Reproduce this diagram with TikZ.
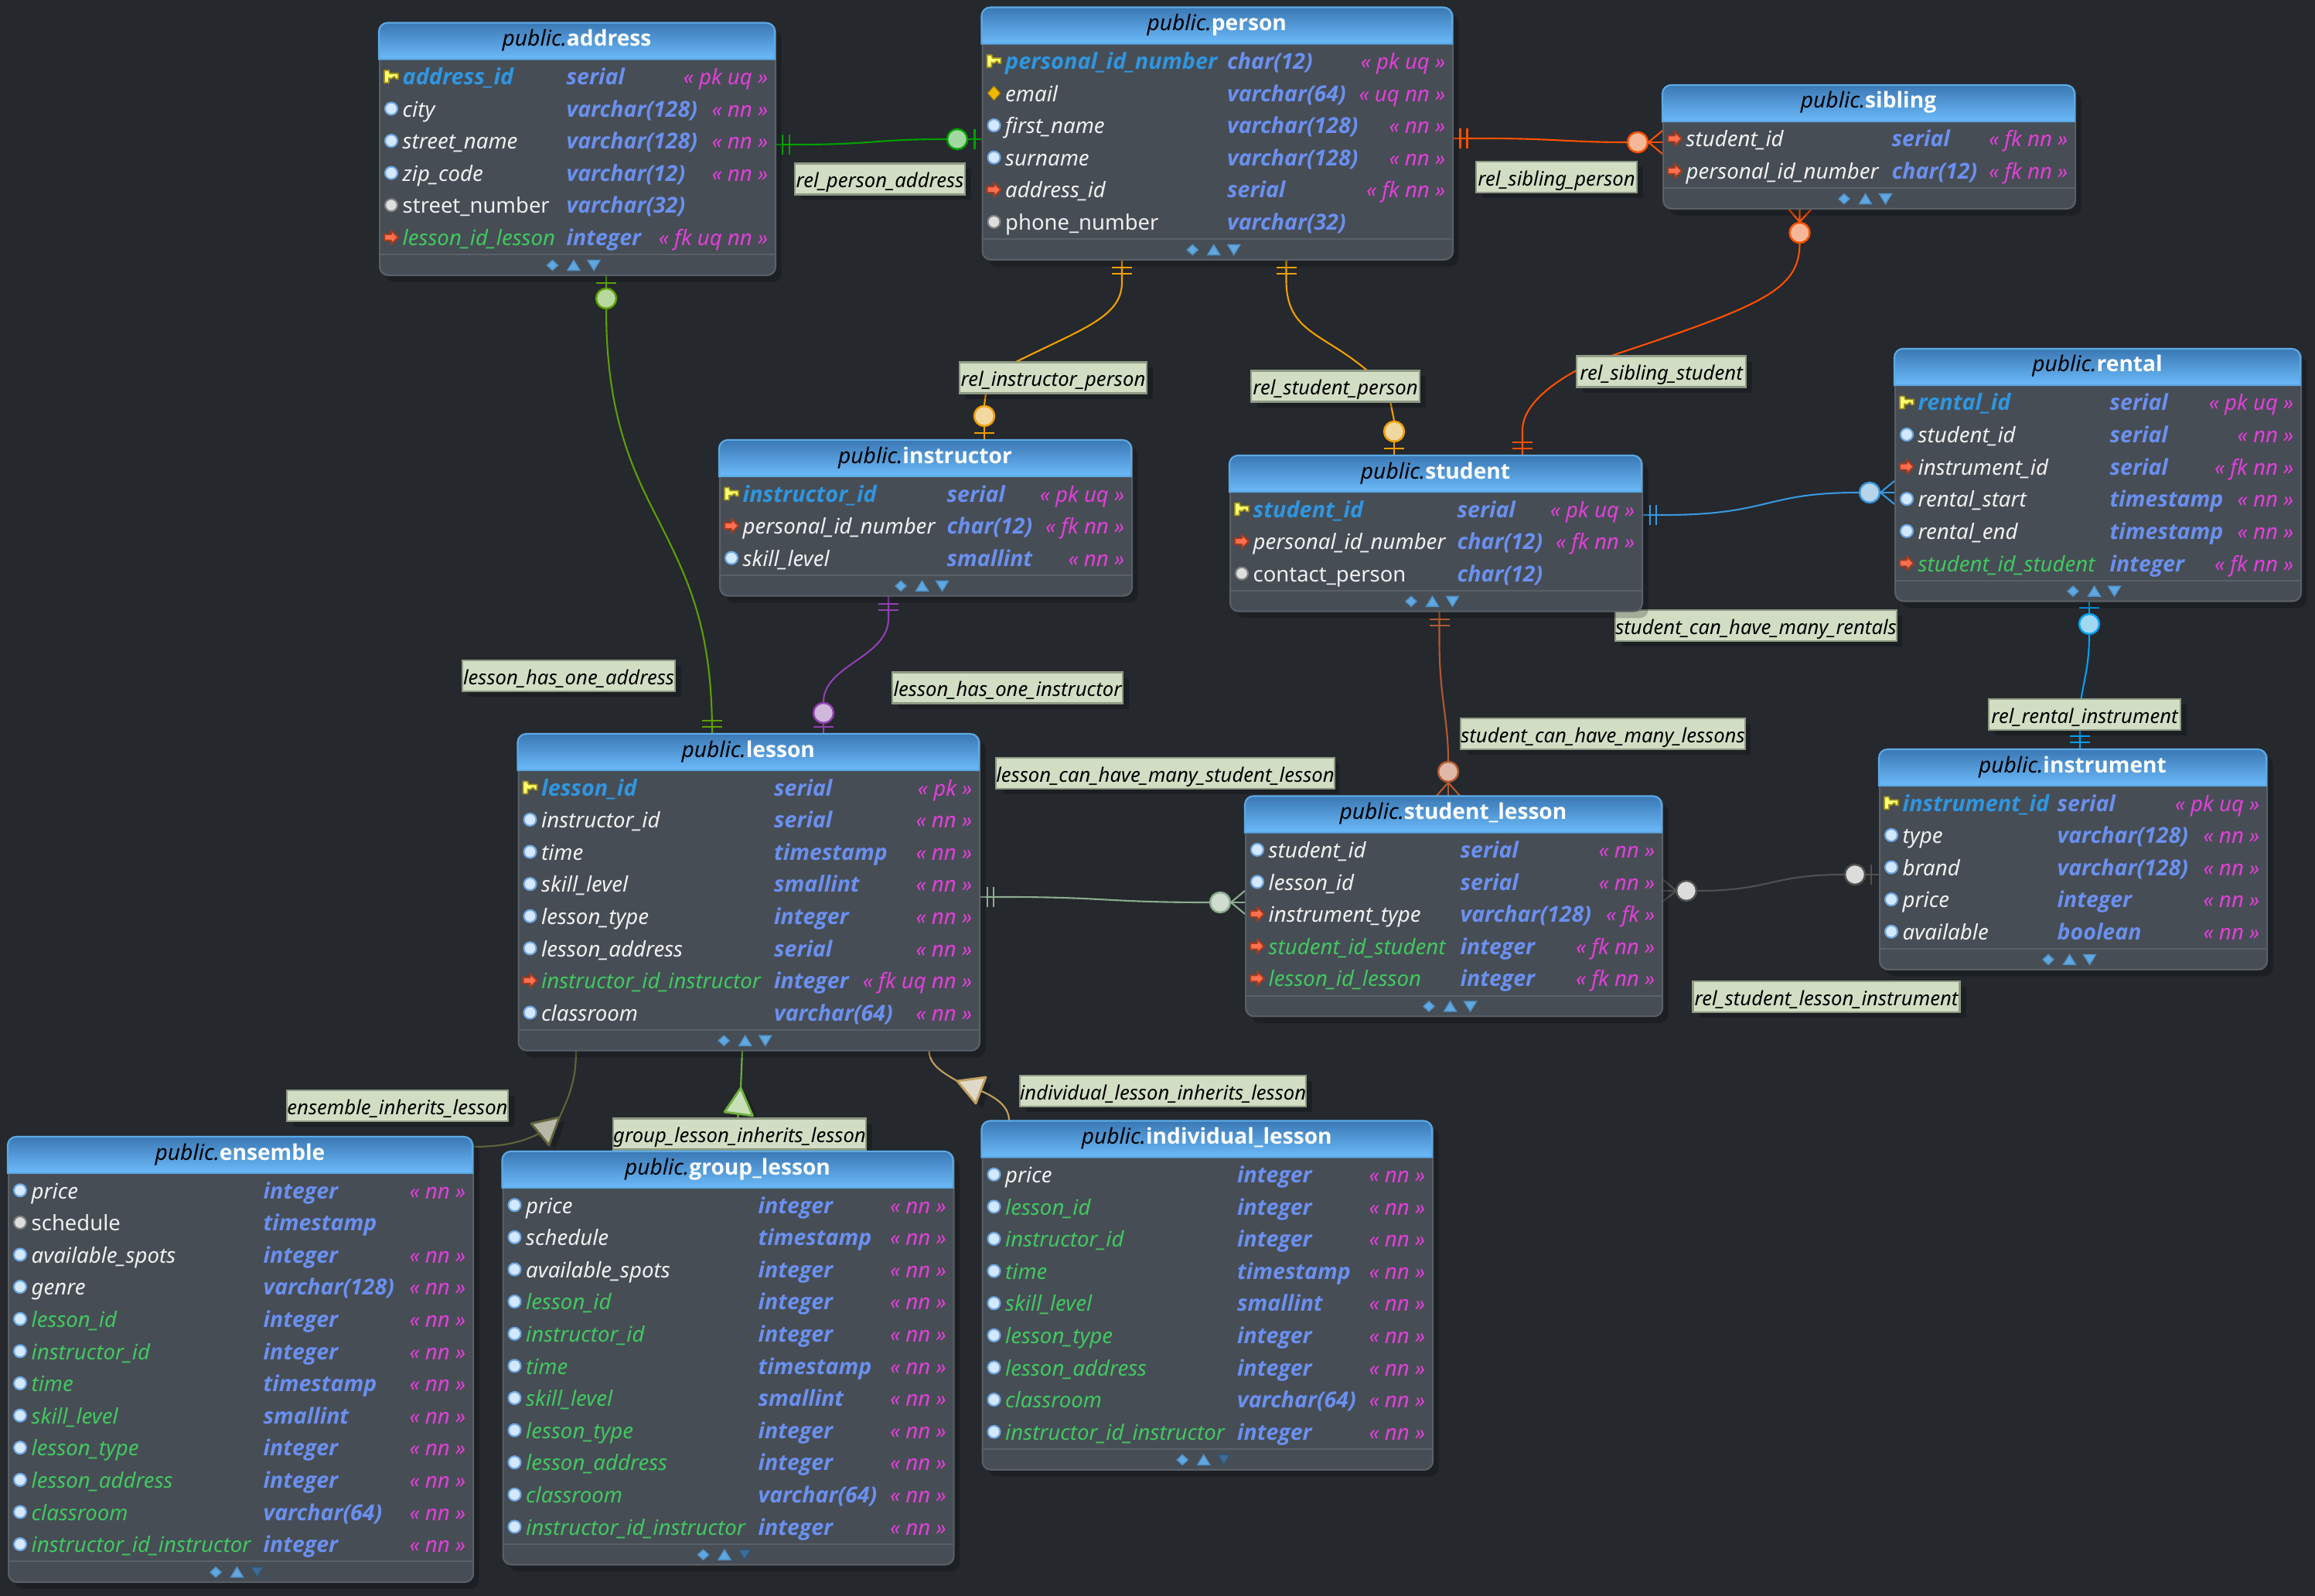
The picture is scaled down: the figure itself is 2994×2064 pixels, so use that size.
\documentclass[tikz,border=0pt]{standalone}
\usepackage{fontspec}
\setmainfont{Noto Sans}
\newfontfamily\strongfam{Open Sans}
\usetikzlibrary{calc}

\definecolor{canvasbg}{HTML}{25282D}
\definecolor{bodybg}{HTML}{474D55}
\definecolor{bodyln}{HTML}{5A6068}
\definecolor{headtop}{HTML}{3A78B4}
\definecolor{headbot}{HTML}{6CBAFA}
\definecolor{headln}{HTML}{5CAAE6}
\definecolor{pkcol}{HTML}{2F96E0}
\definecolor{colcol}{HTML}{F0F0F0}
\definecolor{addcol}{HTML}{40C860}
\definecolor{typecol}{HTML}{6A90F0}
\definecolor{conscol}{HTML}{E040D8}
\definecolor{lblbg}{HTML}{D2DEC4}
\definecolor{lblln}{HTML}{8E9A84}
\definecolor{relGreen}{HTML}{00A000}   \definecolor{relGreenF}{HTML}{A0D8A0}
\definecolor{relSib}{HTML}{FF5000}     \definecolor{relSibF}{HTML}{F4B898}
\definecolor{relPer}{HTML}{F0A000}     \definecolor{relPerF}{HTML}{F0D8A0}
\definecolor{relRent}{HTML}{3A96DC}    \definecolor{relRentF}{HTML}{B8D4EA}
\definecolor{relInst}{HTML}{00A0F0}    \definecolor{relInstF}{HTML}{A0D8F4}
\definecolor{relSl}{HTML}{B05A30}      \definecolor{relSlF}{HTML}{E0B8A8}
\definecolor{relAddr}{HTML}{5CA000}    \definecolor{relAddrF}{HTML}{B8D8A0}
\definecolor{relIns}{HTML}{9040B0}     \definecolor{relInsF}{HTML}{D0B8DC}
\definecolor{relLs}{HTML}{8CAC90}      \definecolor{relLsF}{HTML}{D0DCD0}
\definecolor{relSli}{HTML}{505050}     \definecolor{relSliF}{HTML}{DCDCDC}
\definecolor{relEns}{HTML}{60643C}     \definecolor{relEnsF}{HTML}{B8B8A8}
\definecolor{relGrp}{HTML}{70B040}     \definecolor{relGrpF}{HTML}{C8E0B8}
\definecolor{relInd}{HTML}{C0A060}     \definecolor{relIndF}{HTML}{E0D8C8}
\definecolor{keyfill}{HTML}{FFFF70}    \definecolor{keyln}{HTML}{A09020}
\definecolor{uqfill}{HTML}{F0B800}     \definecolor{uqln}{HTML}{B08800}
\definecolor{fkfill}{HTML}{FF7050}     \definecolor{fkln}{HTML}{A03C20}
\definecolor{colfill}{HTML}{D4E8FF}    \definecolor{colln}{HTML}{6EA6E0}

\tikzset{
  tablebody/.style={draw=bodyln, fill=bodybg, line width=.6pt, rounded corners=.11cm, inner sep=0pt, anchor=north west},
  tableshade/.style={fill=black, opacity=.22, rounded corners=.11cm, inner sep=0pt, anchor=north west},
  titletext/.style={anchor=base, inner sep=0pt, font=\fontsize{8pt}{10pt}\selectfont},
  pkname/.style={text=pkcol, font=\fontsize{8.2pt}{10pt}\selectfont\strongfam\bfseries\itshape},
  colname/.style={text=colcol, font=\fontsize{7.85pt}{10pt}\selectfont\itshape},
  nullname/.style={text=colcol, font=\fontsize{7.8pt}{10pt}\selectfont},
  addname/.style={text=addcol, font=\fontsize{7.85pt}{10pt}\selectfont\itshape},
  typename/.style={text=typecol, anchor=base west, inner sep=0pt, font=\fontsize{8.1pt}{10pt}\selectfont\strongfam\bfseries\itshape},
  consname/.style={text=conscol, anchor=base east, inner sep=0pt, font=\fontsize{7.85pt}{10pt}\selectfont\itshape},
  rellabel/.style={draw=lblln, fill=lblbg, line width=.6pt, inner sep=0pt, text=black, text height=8.4pt, text depth=2.1pt, font=\fontsize{7.3pt}{9pt}\selectfont\itshape, anchor=center},
  relline/.style={draw=#1, line width=.6pt},
  cardcircle/.style n args={2}{circle, draw=#1, fill=#2, line width=.7pt, inner sep=0pt, minimum size=.26cm},
  inhtri/.style n args={2}{draw=#1, fill=#2, line width=.8pt, line join=round},
  footon/.style={draw=headln!85!black, fill=headbot!90!black, line width=.4pt},
  footoff/.style={draw=headln!50!black, fill=headtop!70!bodybg, line width=.4pt},
  % column icons
  pics/keyicon/.style={code={
    \draw[draw=keyln, fill=keyfill, line width=.5pt, line join=round]
      (-9,-8) -- (-3,-8) -- (-2,-4) -- (9,-4) -- (9,3) -- (6,3) -- (4,0) -- (0,3) -- (-3,2) -- (-3,8) -- (-9,8) -- cycle;
  }},
  pics/uqicon/.style={code={
    \draw[draw=uqln, fill=uqfill, line width=.3pt, line join=round]
      (-8,0) -- (0,-9) -- (8,0) -- (0,9) -- cycle;
  }},
  pics/colicon/.style={code={
    \draw[draw=colln, fill=colfill, line width=.6pt] (0,0) circle (8);
  }},
  pics/nullicon/.style={code={
    \draw[draw=gray, fill=white!87!black, line width=.6pt] (0,0) circle (8);
  }},
  pics/fkicon/.style={code={
    \draw[draw=fkln, fill=fkfill, line width=.6pt, line join=round]
      (-9,-4) -- (0,-4) -- (0,-9) -- (9,0) -- (0,9) -- (0,4) -- (-9,4) -- cycle;
  }},
}

% name, left, top, width, type offset, rows, title, last footer arrow style, row list
\newcommand{\erTable}[9]{
  \pgfmathsetmacro{\tblh}{75.8+41.6*#6}
  \pgfmathsetmacro{\tblr}{#2+#4}
  \pgfmathsetmacro{\tblc}{#2+#4/2}
  \node[tableshade, minimum width=#4*0.01cm, minimum height=\tblh*0.01cm] (#1-shade) at (#2+8,#3+9) {};
  \node[tablebody, minimum width=#4*0.01cm, minimum height=\tblh*0.01cm] (#1) at (#2,#3) {};
  \draw[draw=headln, top color=headtop, bottom color=headbot, line width=.6pt]
    (#2,#3+47) [rounded corners=.11cm] -- (#2,#3) -- (\tblr,#3) [sharp corners] -- (\tblr,#3+47) -- cycle;
  \draw[draw=bodyln, line width=.6pt] (#2,#3+50.1+41.6*#6) -- (\tblr,#3+50.1+41.6*#6);
  \node[titletext] (#1-title) at (\tblc,#3+30) {\textcolor{black}{\itshape public.}\textcolor{white}{\strongfam\bfseries #7}};
  \foreach \ic/\st/\nm/\ty/\cn [count=\r] in {#9} {
    \pgfmathsetmacro{\rowy}{#3+80+41.6*(\r-1)}
    \pic at (#2+16,\rowy-10.6) {\ic};
    \node[\st, anchor=base west, inner sep=0pt] (#1-n\r) at (#2+30,\rowy) {\nm};
    \node[typename] (#1-t\r) at (#2+#5,\rowy) {\ty};
    \ifx\cn\empty\else
      \node[consname] (#1-c\r) at (\tblr-8,\rowy) {« \cn\ »};
    \fi
  }
  \pgfmathsetmacro{\footy}{#3+64+41.6*#6}
  \draw[footon] (\tblc-38.5,\footy) -- (\tblc-31.5,\footy-6.5) -- (\tblc-24.5,\footy) -- (\tblc-31.5,\footy+6.5) -- cycle;
  \draw[footon] (\tblc-12,\footy+6.5) -- (\tblc-4,\footy-6.5) -- (\tblc+4,\footy+6.5) -- cycle;
  \draw[#8] (\tblc+14,\footy-6.5) -- (\tblc+30,\footy-6.5) -- (\tblc+22,\footy+6.5) -- cycle;
}
\newcommand{\relLabel}[6]{
  \node[fill=black, opacity=.22, inner sep=0pt, minimum width=#4*0.01cm, minimum height=#5*0.01cm] (#1-shade) at (#2+8,#3+7) {};
  \node[rellabel, minimum width=#4*0.01cm, minimum height=#5*0.01cm] (#1) at (#2,#3) {#6};
}
\newcommand{\hbarAt}[4]{\draw[relline=#1] (#2-#4,#3) -- (#2+#4,#3);}
\newcommand{\vbarAt}[4]{\draw[relline=#1] (#2,#3-#4) -- (#2,#3+#4);}

\begin{document}
\begin{tikzpicture}[x=0.01cm, y=-0.01cm]
  \useasboundingbox[fill=canvasbg] (0,0) rectangle (2994,2064);

  % cardinality circles
  \node[cardcircle={relGreen}{relGreenF}] (cPersonAddr) at (1238,180) {};
  \node[cardcircle={relSib}{relSibF}] (cSiblingPerson) at (2118,184) {};
  \node[cardcircle={relSib}{relSibF}] (cSiblingStudent) at (2327.5,301) {};
  \node[cardcircle={relPer}{relPerF}] (cInstrPerson) at (1273,538) {};
  \node[cardcircle={relPer}{relPerF}] (cStudPerson) at (1803,558) {};
  \node[cardcircle={relRent}{relRentF}] (cStudRental) at (2418,637) {};
  \node[cardcircle={relInst}{relInstF}] (cRentalInstr) at (2702,807) {};
  \node[cardcircle={relSl}{relSlF}] (cStudLesson) at (1873,998) {};
  \node[cardcircle={relAddr}{relAddrF}] (cAddrLesson) at (784,386) {};
  \node[cardcircle={relIns}{relInsF}] (cInstrLesson) at (1065,922) {};
  \node[cardcircle={relLs}{relLsF}] (cLessonStud) at (1578,1167) {};
  \node[cardcircle={relSli}{relSliF}] (cSlInstrA) at (2181,1152) {};
  \node[cardcircle={relSli}{relSliF}] (cSlInstrB) at (2399,1131) {};

  % rel_person_address
  \draw[relline=relGreen] (1002,187) -- (1030,187) .. controls (1130,187) and (1130,180) .. (cPersonAddr.west);
  \vbarAt{relGreen}{1012}{187}{13} \vbarAt{relGreen}{1021}{187}{13}
  \draw[relline=relGreen] (cPersonAddr.east) -- (1269.5,180);
  \vbarAt{relGreen}{1260.5}{180}{13}

  % rel_sibling_person
  \draw[relline=relSib] (1878,179) -- (1920,179) .. controls (2010,179) and (2030,184) .. (cSiblingPerson.west);
  \vbarAt{relSib}{1888.5}{179}{13} \vbarAt{relSib}{1897.5}{179}{13}
  \draw[relline=relSib] (cSiblingPerson.east) -- (2150,184);
  \draw[relline=relSib] (2150,169) -- (2132,184) -- (2150,199);

  % rel_sibling_student
  \draw[relline=relSib] (2312,269) -- (2327.5,287) -- (2344,269) (2327.5,287) -- (2327.5,269);
  \draw[relline=relSib] (cSiblingStudent.south) .. controls (2327,375) and (2280,395) .. (2081,461) -- (2039,479)
    .. controls (1995,503) and (1969,530) .. (1969,556) -- (1969,589);
  \hbarAt{relSib}{1969}{572}{13} \hbarAt{relSib}{1969}{580}{13}

  % rel_instructor_person
  \draw[relline=relPer] (1451,335) -- (1451,365) .. controls (1451,410) and (1400,425) .. (1314,468) -- (1275,509) -- (cInstrPerson.north);
  \hbarAt{relPer}{1451}{346}{13} \hbarAt{relPer}{1451}{354}{13}
  \draw[relline=relPer] (cInstrPerson.south) -- (1273,569);
  \hbarAt{relPer}{1273}{560}{13}

  % rel_student_person
  \draw[relline=relPer] (1663.5,335) -- (1663.5,365) .. controls (1665,430) and (1710,430) .. (1768,479) -- (1798,519) -- (cStudPerson.north);
  \hbarAt{relPer}{1663.5}{346}{13} \hbarAt{relPer}{1663.5}{354}{13}
  \draw[relline=relPer] (cStudPerson.south) -- (1803,589);
  \hbarAt{relPer}{1803}{580}{13}

  % student_can_have_many_rentals
  \draw[relline=relRent] (2123,666) -- (2150,666) .. controls (2290,666) and (2280,637) .. (cStudRental.west);
  \vbarAt{relRent}{2134}{666}{13} \vbarAt{relRent}{2142}{666}{13}
  \draw[relline=relRent] (cStudRental.east) -- (2450,637);
  \draw[relline=relRent] (2450,622) -- (2432,637) -- (2450,652);

  % rel_rental_instrument
  \draw[relline=relInst] (2702,776) -- (cRentalInstr.north);
  \hbarAt{relInst}{2702}{786}{13}
  \draw[relline=relInst] (cRentalInstr.south) .. controls (2702,860) and (2695,880) .. (2691.5,904) -- (2690,944) -- (2690,969);
  \hbarAt{relInst}{2690}{952}{13} \hbarAt{relInst}{2690}{960}{13}

  % student_can_have_many_lessons
  \draw[relline=relSl] (1861.5,790) -- (1861.5,830) .. controls (1861.5,900) and (1873,930) .. (cStudLesson.north);
  \hbarAt{relSl}{1861.5}{801}{13} \hbarAt{relSl}{1861.5}{809}{13}
  \draw[relline=relSl] (cStudLesson.south) -- (1873,1029);
  \draw[relline=relSl] (1858,1029) -- (1873,1012) -- (1888,1029);

  % lesson_has_one_address
  \draw[relline=relAddr] (784,355) -- (cAddrLesson.north);
  \hbarAt{relAddr}{784}{366}{13}
  \draw[relline=relAddr] (cAddrLesson.south) .. controls (784,520) and (810,590) .. (840,650)
    .. controls (885,740) and (921,800) .. (921,949);
  \hbarAt{relAddr}{921}{932}{13} \hbarAt{relAddr}{921}{940}{13}

  % lesson_has_one_instructor
  \draw[relline=relIns] (1149,770) -- (1149,800) .. controls (1149,850) and (1065,860) .. (cInstrLesson.north);
  \hbarAt{relIns}{1149}{781}{13} \hbarAt{relIns}{1149}{789}{13}
  \draw[relline=relIns] (cInstrLesson.south) -- (1065,949);
  \hbarAt{relIns}{1065}{940}{13}

  % lesson_can_have_many_student_lesson
  \draw[relline=relLs] (1266,1160) -- (1300,1160) .. controls (1430,1160) and (1430,1167) .. (cLessonStud.west);
  \vbarAt{relLs}{1277}{1160}{13} \vbarAt{relLs}{1285}{1160}{13}
  \draw[relline=relLs] (cLessonStud.east) -- (1610,1167);
  \draw[relline=relLs] (1610,1152) -- (1592,1167) -- (1610,1182);

  % rel_student_lesson_instrument
  \draw[relline=relSli] (2149,1152) -- (cSlInstrA.west);
  \draw[relline=relSli] (2149,1136) -- (2168,1152) -- (2149,1167);
  \draw[relline=relSli] (cSlInstrA.east) .. controls (2290,1152) and (2290,1131) .. (cSlInstrB.west);
  \draw[relline=relSli] (cSlInstrB.east) -- (2430,1131);
  \vbarAt{relSli}{2420}{1131}{13}

  % inheritance
  \fill[black, opacity=.22] (731,1450) -- (695,1458) -- (718,1486) -- cycle;
  \draw[relline=relEns] (745,1358) .. controls (745,1390) and (740,1410) .. (723.5,1445);
  \draw[relline=relEns] (697,1466) .. controls (670,1480) and (640,1483) .. (611,1483);
  \draw[inhtri={relEns}{relEnsF}] (723.5,1445) -- (687,1453) -- (710,1481) -- cycle;

  \fill[black, opacity=.22] (966,1414) -- (944,1445) -- (981,1450) -- cycle;
  \draw[relline=relGrp] (960,1358) -- (958,1407);
  \draw[relline=relGrp] (954.5,1442) -- (953.5,1489);
  \draw[inhtri={relGrp}{relGrpF}] (958,1407) -- (937,1438) -- (973.5,1443) -- cycle;

  \fill[black, opacity=.22] (1246,1405) -- (1283,1400) -- (1270,1434) -- cycle;
  \draw[relline=relInd] (1201.5,1358) .. controls (1201.5,1375) and (1215,1385) .. (1238,1398);
  \draw[relline=relInd] (1269,1411) .. controls (1290,1420) and (1305,1432) .. (1305,1449);
  \draw[inhtri={relInd}{relIndF}] (1238,1398) -- (1275,1393) -- (1262,1427) -- cycle;

  % labels
  \relLabel{lblPersonAddr}{1138}{231.5}{220}{40}{rel\_person\_address}
  \relLabel{lblSiblingPerson}{2013}{229}{208}{40}{rel\_sibling\_person}
  \relLabel{lblSiblingStudent}{2148.5}{480.5}{219}{40}{rel\_sibling\_student}
  \relLabel{lblInstrPerson}{1362}{488.5}{242}{40}{rel\_instructor\_person}
  \relLabel{lblStudPerson}{1727}{499.5}{218}{40}{rel\_student\_person}
  \relLabel{lblManyRentals}{2271}{809}{362}{40}{student\_can\_have\_many\_rentals}
  \relLabel{lblManyLessons}{2073}{949}{366}{40}{student\_can\_have\_many\_lessons}
  \relLabel{lblRentalInstr}{2696}{924}{248}{40}{rel\_rental\_instrument}
  \relLabel{lblOneAddress}{735.5}{874}{275}{40}{lesson\_has\_one\_address}
  \relLabel{lblOneInstr}{1303}{889.5}{298}{40}{lesson\_has\_one\_instructor}
  \relLabel{lblManyStudLesson}{1507}{1000}{434}{40}{lesson\_can\_have\_many\_student\_lesson}
  \relLabel{lblSlInstr}{2362}{1289}{345}{40}{rel\_student\_lesson\_instrument}
  \relLabel{lblEnsInh}{514}{1430}{286}{40}{ensemble\_inherits\_lesson}
  \relLabel{lblGrpInh}{956.5}{1466.5}{327}{40}{group\_lesson\_inherits\_lesson}
  \relLabel{lblIndInh}{1504}{1411}{370}{40}{individual\_lesson\_inherits\_lesson}

  % tables
  \erTable{address}{490}{29.5}{512}{242}{6}{address}{footon}{
    keyicon/pkname/address\_id/serial/pk uq,
    colicon/colname/city/varchar(128)/nn,
    colicon/colname/street\_name/varchar(128)/nn,
    colicon/colname/zip\_code/varchar(12)/nn,
    nullicon/nullname/street\_number/varchar(32)/,
    fkicon/addname/lesson\_id\_lesson/integer/fk uq nn}
  \erTable{person}{1269.5}{9.5}{608.5}{317}{6}{person}{footon}{
    keyicon/pkname/personal\_id\_number/char(12)/pk uq,
    uqicon/colname/email/varchar(64)/uq nn,
    colicon/colname/first\_name/varchar(128)/nn,
    colicon/colname/surname/varchar(128)/nn,
    fkicon/colname/address\_id/serial/fk nn,
    nullicon/nullname/phone\_number/varchar(32)/}
  \erTable{sibling}{2150}{110}{533}{296}{2}{sibling}{footon}{
    fkicon/colname/student\_id/serial/fk nn,
    fkicon/colname/personal\_id\_number/char(12)/fk nn}
  \erTable{rental}{2450}{451}{525}{278}{6}{rental}{footon}{
    keyicon/pkname/rental\_id/serial/pk uq,
    colicon/colname/student\_id/serial/nn,
    fkicon/colname/instrument\_id/serial/fk nn,
    colicon/colname/rental\_start/timestamp/nn,
    colicon/colname/rental\_end/timestamp/nn,
    fkicon/addname/student\_id\_student/integer/fk nn}
  \erTable{instructor}{930}{569}{533}{294}{3}{instructor}{footon}{
    keyicon/pkname/instructor\_id/serial/pk uq,
    fkicon/colname/personal\_id\_number/char(12)/fk nn,
    colicon/colname/skill\_level/smallint/nn}
  \erTable{student}{1590}{589}{533}{294}{3}{student}{footon}{
    keyicon/pkname/student\_id/serial/pk uq,
    fkicon/colname/personal\_id\_number/char(12)/fk nn,
    nullicon/nullname/contact\_person/char(12)/}
  \erTable{lesson}{669.5}{949}{596.5}{331}{8}{lesson}{footon}{
    keyicon/pkname/lesson\_id/serial/pk,
    colicon/colname/instructor\_id/serial/nn,
    colicon/colname/time/timestamp/nn,
    colicon/colname/skill\_level/smallint/nn,
    colicon/colname/lesson\_type/integer/nn,
    colicon/colname/lesson\_address/serial/nn,
    fkicon/addname/instructor\_id\_instructor/integer/fk uq nn,
    colicon/colname/classroom/varchar(64)/nn}
  \erTable{studentlesson}{1610}{1029.5}{539}{278}{5}{student\_lesson}{footon}{
    colicon/colname/student\_id/serial/nn,
    colicon/colname/lesson\_id/serial/nn,
    fkicon/colname/instrument\_type/varchar(128)/fk,
    fkicon/addname/student\_id\_student/integer/fk nn,
    fkicon/addname/lesson\_id\_lesson/integer/fk nn}
  \erTable{instrument}{2430}{969}{501}{230}{5}{instrument}{footon}{
    keyicon/pkname/instrument\_id/serial/pk uq,
    colicon/colname/type/varchar(128)/nn,
    colicon/colname/brand/varchar(128)/nn,
    colicon/colname/price/integer/nn,
    colicon/colname/available/boolean/nn}
  \erTable{ensemble}{10}{1470}{601}{330}{12}{ensemble}{footoff}{
    colicon/colname/price/integer/nn,
    nullicon/nullname/schedule/timestamp/,
    colicon/colname/available\_spots/integer/nn,
    colicon/colname/genre/varchar(128)/nn,
    colicon/addname/lesson\_id/integer/nn,
    colicon/addname/instructor\_id/integer/nn,
    colicon/addname/time/timestamp/nn,
    colicon/addname/skill\_level/smallint/nn,
    colicon/addname/lesson\_type/integer/nn,
    colicon/addname/lesson\_address/integer/nn,
    colicon/addname/classroom/varchar(64)/nn,
    colicon/addname/instructor\_id\_instructor/integer/nn}
  \erTable{grouplesson}{649.5}{1489}{583}{330.5}{11}{group\_lesson}{footoff}{
    colicon/colname/price/integer/nn,
    colicon/colname/schedule/timestamp/nn,
    colicon/colname/available\_spots/integer/nn,
    colicon/addname/lesson\_id/integer/nn,
    colicon/addname/instructor\_id/integer/nn,
    colicon/addname/time/timestamp/nn,
    colicon/addname/skill\_level/smallint/nn,
    colicon/addname/lesson\_type/integer/nn,
    colicon/addname/lesson\_address/integer/nn,
    colicon/addname/classroom/varchar(64)/nn,
    colicon/addname/instructor\_id\_instructor/integer/nn}
  \erTable{individuallesson}{1269.5}{1449.5}{582.5}{330}{9}{individual\_lesson}{footoff}{
    colicon/colname/price/integer/nn,
    colicon/addname/lesson\_id/integer/nn,
    colicon/addname/instructor\_id/integer/nn,
    colicon/addname/time/timestamp/nn,
    colicon/addname/skill\_level/smallint/nn,
    colicon/addname/lesson\_type/integer/nn,
    colicon/addname/lesson\_address/integer/nn,
    colicon/addname/classroom/varchar(64)/nn,
    colicon/addname/instructor\_id\_instructor/integer/nn}
\end{tikzpicture}
\end{document}
